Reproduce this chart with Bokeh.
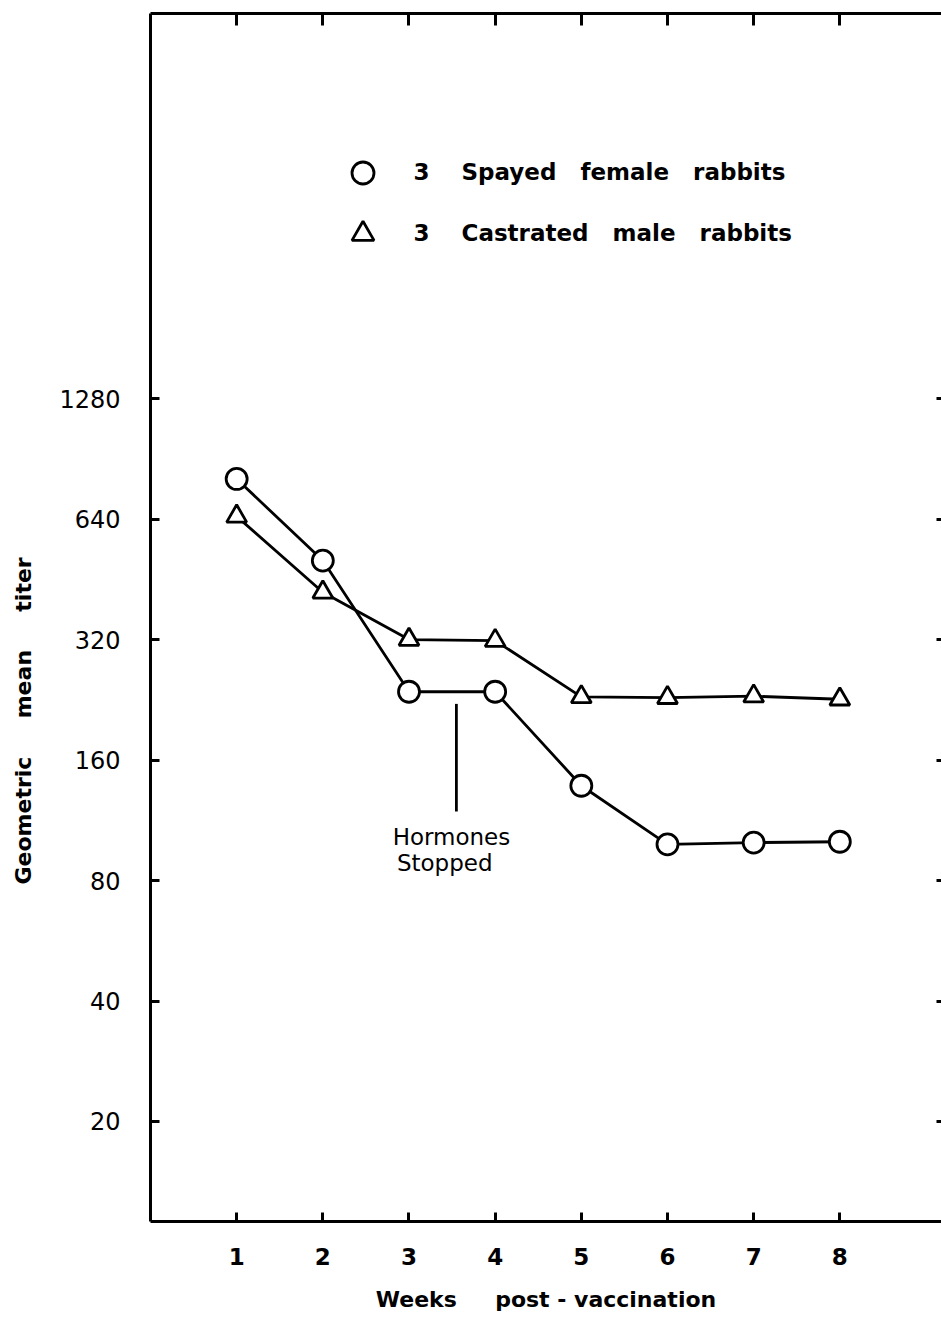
import math
from bokeh.plotting import figure
from bokeh.models import (LogAxis, LinearAxis, FixedTicker, Range1d, Label,
                          Legend, LegendItem)
from bokeh.embed import file_html
from bokeh.resources import INLINE

# ---- data ----
weeks = [1, 2, 3, 4, 5, 6, 7, 8]
spayed_female = [806, 504, 237, 237, 138, 98.5, 99.5, 100]
castrated_male = [650, 420, 320, 318, 230, 229, 231, 227]
y_tick_values = [20, 40, 80, 160, 320, 640, 1280]
x_tick_values = [1, 2, 3, 4, 5, 6, 7, 8]
hormones_week = 3.55
hormones_span = [221, 119]

NB = "\u00a0"

p = figure(width=941, height=1318, output_backend="svg", toolbar_location=None,
           x_range=Range1d(0, 9.18), y_range=Range1d(11.25, 11730),
           y_axis_type="log", x_axis_location=None, y_axis_location=None,
           min_border_left=150, min_border_right=0, min_border_top=13,
           min_border_bottom=97)
p.outline_line_color = None
p.grid.visible = False
p.background_fill_color = "white"
p.border_fill_color = "white"

# left axis
ly = LogAxis(ticker=FixedTicker(ticks=y_tick_values, minor_ticks=[]))
ly.axis_line_width = 3
ly.major_tick_in = 9
ly.major_tick_out = 0
ly.major_tick_line_width = 3
ly.minor_tick_line_color = None
ly.major_label_standoff = 30
ly.major_label_text_font = "DejaVu Sans"
ly.major_label_text_font_size = "24px"
ly.major_label_text_color = "black"
ly.axis_label = f"Geometric{NB*5}mean{NB*5}titer" + NB * 27
ly.axis_label_text_font = "DejaVu Sans"
ly.axis_label_text_font_style = "bold"
ly.axis_label_text_font_size = "22px"
ly.axis_label_text_color = "black"
ly.axis_label_standoff = 20
p.add_layout(ly, "left")

# right axis (ticks only)
ry = LogAxis(ticker=FixedTicker(ticks=y_tick_values, minor_ticks=[]))
ry.axis_line_color = None
ry.major_tick_in = 5
ry.major_tick_out = 0
ry.major_tick_line_width = 3
ry.minor_tick_line_color = None
ry.major_label_text_font_size = "1px"
ry.major_label_text_color = None
ry.major_label_standoff = 0
p.add_layout(ry, "right")

# bottom axis
bx = LinearAxis(ticker=FixedTicker(ticks=x_tick_values, minor_ticks=[]))
bx.axis_line_width = 3
bx.major_tick_in = 9
bx.major_tick_out = 0
bx.major_tick_line_width = 3
bx.major_label_standoff = 26
bx.major_label_text_font = "DejaVu Sans"
bx.major_label_text_font_style = "bold"
bx.major_label_text_font_size = "23px"
bx.major_label_text_color = "black"
bx.axis_label = f"Weeks{NB*5}post{NB}-{NB}vaccination"
bx.axis_label_text_font = "DejaVu Sans"
bx.axis_label_text_font_style = "bold"
bx.axis_label_text_font_size = "22px"
bx.axis_label_text_color = "black"
bx.axis_label_standoff = 19
p.add_layout(bx, "below")

# top axis (ticks only)
tx = LinearAxis(ticker=FixedTicker(ticks=x_tick_values, minor_ticks=[]))
tx.axis_line_width = 3
tx.major_tick_in = 12
tx.major_tick_out = 0
tx.major_tick_line_width = 3
tx.major_label_text_font_size = "1px"
tx.major_label_text_color = None
tx.major_label_standoff = 0
p.add_layout(tx, "above")

# series
p.line(weeks, spayed_female, line_color="black", line_width=2.8)
p.line(weeks, castrated_male, line_color="black", line_width=2.8)
r_circ = p.scatter(weeks, spayed_female, marker="circle", size=21,
                   fill_color="white", line_color="black", line_width=2.8)
r_tri = p.scatter(weeks, castrated_male, marker="triangle", size=20,
                  fill_color="white", line_color="black", line_width=2.8)

# hormones annotation
p.segment(x0=[hormones_week], y0=[hormones_span[0]], x1=[hormones_week],
          y1=[hormones_span[1]], line_color="black", line_width=2.8)
p.add_layout(Label(x=2.81, y=102.8, text="Hormones", text_font="DejaVu Sans",
                   text_font_size="23px", text_align="left",
                   text_baseline="middle", text_color="black"))
p.add_layout(Label(x=2.86, y=88.5, text="Stopped", text_font="DejaVu Sans",
                   text_font_size="23px", text_align="left",
                   text_baseline="middle", text_color="black"))

# legend
legend = Legend(items=[
    LegendItem(label=f"3{NB*4}Spayed{NB*3}female{NB*3}rabbits", renderers=[r_circ]),
    LegendItem(label=f"3{NB*4}Castrated{NB*3}male{NB*3}rabbits", renderers=[r_tri]),
], location=(184.5, 960.5))
legend.glyph_width = 55
legend.glyph_height = 55
legend.spacing = 6
legend.padding = 0
legend.margin = 0
legend.label_standoff = 24
legend.label_text_font = "DejaVu Sans"
legend.label_text_font_style = "bold"
legend.label_text_font_size = "23px"
legend.label_text_color = "black"
legend.border_line_color = None
legend.background_fill_alpha = 0
p.add_layout(legend, "center")

open("out.html", "w").write(file_html(p, INLINE))
